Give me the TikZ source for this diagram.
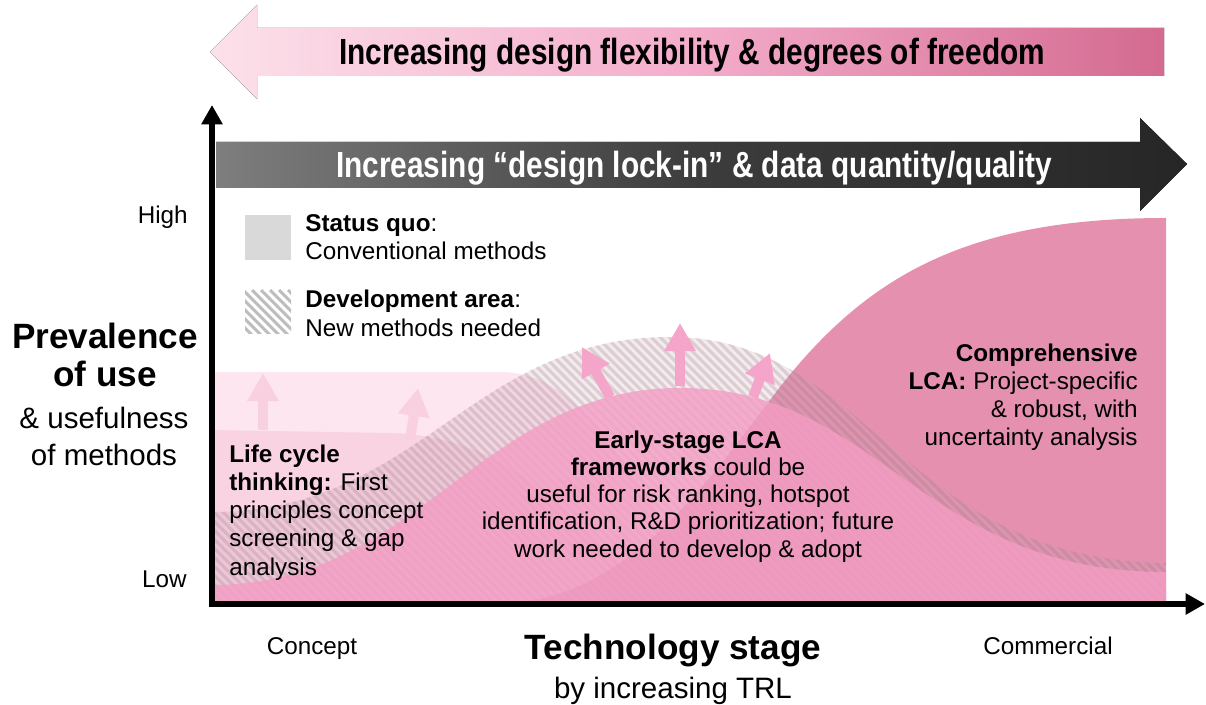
\documentclass[tikz,border=0pt]{standalone}
\usepackage{fontspec}
\setmainfont{Liberation Sans}
\newfontfamily\condfont[FakeStretch=0.82]{Liberation Sans}
\usetikzlibrary{arrows.meta,patterns.meta,positioning}

\definecolor{lcdev}{HTML}{FDE6EF}
\definecolor{lcbase}{HTML}{FAD3E2}
\definecolor{lcarrow}{HTML}{F9D0E0}
\definecolor{esbase}{HTML}{F49DC4}
\definecolor{esarrow}{HTML}{F5A5C9}
\definecolor{devgray}{HTML}{C7A0B0}
\definecolor{devline}{HTML}{9A7886}
\definecolor{complca}{HTML}{E590AE}
\definecolor{sqgray}{HTML}{D9D9D9}
\definecolor{legline}{HTML}{BDBDBD}
\definecolor{flexL}{HTML}{FCE1EA}
\definecolor{flexM}{HTML}{F4ADCB}
\definecolor{flexR}{HTML}{D46A90}
\definecolor{lockL}{HTML}{7E7E7E}
\definecolor{lockM}{HTML}{3C3C3C}
\definecolor{lockR}{HTML}{262626}

\tikzset{
  axisline/.style={line width=3.6pt, line join=miter,
    {Triangle[length=11pt,width=11.5pt]}-{Triangle[length=11pt,width=11.5pt]}},
  bannertext/.style={font=\condfont\bfseries\fontsize{20.7}{24}\selectfont, inner sep=0pt, anchor=base},
  txt/.style={font=\fontsize{13.8}{16}\selectfont, inner sep=0pt},
  bigtxt/.style={font=\bfseries\fontsize{20}{24}\selectfont, inner sep=0pt, anchor=base},
  subtxt/.style={font=\fontsize{16.8}{20}\selectfont, inner sep=0pt, anchor=base},
  stripe/.style={devline, line width=1.8pt, draw opacity=0.25},
  uparr/.style={line width=5.7pt, -{Triangle[length=16pt,width=17pt]}},
}

\begin{document}
\begin{tikzpicture}[x=0.02cm, y=-0.02cm]
\useasboundingbox (0,0) rectangle (1206,705);

% banners
\fill[left color=flexL, right color=flexR, middle color=flexM]
  (210,52) -- (257,5) -- (257,28) -- (1164,28) -- (1164,76) -- (257,76) -- (257,99) -- cycle;
\node[bannertext] (flex) at (692,65) {Increasing design flexibility \& degrees of freedom};
\fill[left color=lockL, right color=lockR, middle color=lockM]
  (216,142) -- (1140,142) -- (1140,118) -- (1187,164) -- (1140,211) -- (1140,188) -- (216,188) -- cycle;
\node[bannertext, white] (lock) at (694,178) {Increasing “design lock-in” \& data quantity/quality};

% curves
\begin{scope}
  \clip (214,100) rectangle (1166,603);
  % life cycle thinking
  \fill[lcdev] (211,605) -- (211,372) -- (500,372) .. controls (580,372) and (620,460) .. (720,605) -- cycle;
  \fill[lcbase] (211,605) -- (211,430) -- (390,433) .. controls (500,436) and (560,500) .. (660,605) -- cycle;
  % comprehensive LCA
  \fill[complca] (211,605) -- (211,603) -- (500,603) .. controls (620,603) and (700,493) .. (770,400)
    .. controls (860,280) and (960,218) .. (1166,218) -- (1166,605) -- cycle;
  % early-stage LCA, development area
  \path[save path=\devpath] (211,605) -- (211,512) .. controls (420,512) and (470,337) .. (670,337)
    .. controls (870,337) and (900,560) .. (1166,563) -- (1166,605) -- cycle;
  \begin{scope}
    \clip[use path=\devpath];
    \fill[devgray, fill opacity=0.22] (200,300) rectangle (1170,610);
    \foreach \k in {-60,...,105}
      \draw[stripe] ({9*\k+200},300) -- ++(320,320);
  \end{scope}
  % early-stage LCA, status quo
  \fill[esbase, fill opacity=0.8] (211,605) -- (211,585) .. controls (420,585) and (480,388) .. (680,388)
    .. controls (880,388) and (920,572) .. (1166,572) -- (1166,605) -- cycle;
\end{scope}

% arrows up
\foreach \bx/\by/\tx/\ty [count=\i] in {263/430/263/373, 410/440/418/388} {
  \coordinate (lcb\i) at (\bx,\by);
  \coordinate (lct\i) at (\tx,\ty);
  \draw[uparr, lcarrow] (lcb\i) -- (lct\i);
}
\foreach \bx/\by/\tx/\ty [count=\i] in {610/397/582/347, 680/386/680/323, 753/397/770/353} {
  \coordinate (esb\i) at (\bx,\by);
  \coordinate (est\i) at (\tx,\ty);
  \draw[uparr, esarrow] (esb\i) -- (est\i);
}

% legend
\fill[sqgray] (245,215) rectangle (291,260);
\begin{scope}
  \clip (245,290) rectangle (291,334);
  \foreach \k in {0,...,12}
    \draw[legline, line width=1.8pt] ({9*\k+180},290) -- ++(50,50);
\end{scope}
\node[txt, anchor=base west] (sq) at (305,232) {\textbf{Status quo}:};
\node[txt, anchor=base west] (sqsub) at (305,260) {Conventional methods};
\node[txt, anchor=base west] (dev) at (305,308) {\textbf{Development area}:};
\node[txt, anchor=base west] (devsub) at (305,337) {New methods needed};

% annotations
\foreach \row [count=\i] in {{\textbf{Life cycle}}, {\textbf{thinking:} First}, principles concept, screening \& gap, analysis}
  \node[txt, anchor=base west] (lctx\i) at (229,{462+28.3*(\i-1)}) {\row};
\foreach \row [count=\i] in {{\textbf{Early-stage LCA}}, {\textbf{frameworks} could be}, {useful for risk ranking, hotspot},
    {identification, R\&D prioritization; future}, work needed to develop \& adopt}
  \node[txt, anchor=base] (estx\i) at (688,{448+27.3*(\i-1)}) {\row};
\foreach \row [count=\i] in {{\textbf{Comprehensive}}, {\textbf{LCA:} Project-specific}, {\& robust, with}, uncertainty analysis}
  \node[txt, anchor=base east] (cotx\i) at (1138,{362+27.7*(\i-1)}) {\row};

% axes
\coordinate (ytop) at (212,105);
\coordinate (xend) at (1205,604);
\draw[axisline] (ytop) |- (xend);

% axis labels
\node[txt, anchor=base east] (high) at (188,224) {High};
\node[txt, anchor=base east] (low) at (187,587) {Low};
\node[bigtxt] (prev) at (105,349) {Prevalence};
\node[bigtxt] (ofuse) at (105,387) {of use};
\node[subtxt] (useful) at (104,429) {\& usefulness};
\node[subtxt] (methods) at (104,465) {of methods};
\node[txt, anchor=base] (concept) at (312,654) {Concept};
\node[txt, anchor=base] (commercial) at (1048,654) {Commercial};
\node[bigtxt] (techstage) at (673,659) {Technology stage};
\node[subtxt] (trl) at (673,698) {by increasing TRL};

\end{tikzpicture}
\end{document}
